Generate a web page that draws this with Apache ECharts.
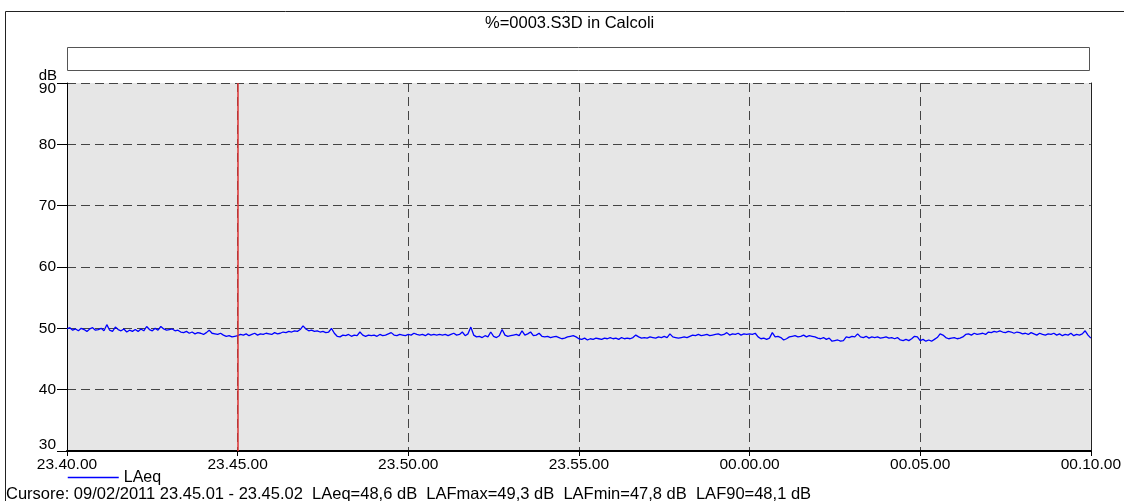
<!DOCTYPE html>
<html>
<head>
<meta charset="utf-8">
<script src="https://cdn.jsdelivr.net/npm/echarts@6/dist/echarts.min.js"></script>
<style>
html,body{margin:0;padding:0;background:#fff;}
#chart{width:1124px;height:501px;}
</style>
</head>
<body>
<div id="chart"></div>
<script>
// ---- data ----
const titleText = '%=0003.S3D in Calcoli';
const seriesName = 'LAeq';
const cursorText = 'Cursore: 09/02/2011 23.45.01 - 23.45.02  LAeq=48,6 dB  LAFmax=49,3 dB  LAFmin=47,8 dB  LAF90=48,1 dB';
const xTickLabels = ['23.40.00','23.45.00','23.50.00','23.55.00','00.00.00','00.05.00','00.10.00'];
const yTicks = [30, 40, 50, 60, 70, 80, 90];
const stepSeconds = 5;          // sampling step of the values below (s)
const cursorSecond = 301;       // 23.45.01, seconds from 23.40.00
const laeq = [
  49.9,50.1,49.7,49.9,49.6,50.0,49.8,49.5,49.9,50.1,49.7,49.8,
  50.0,49.6,50.6,49.7,49.5,50.2,49.8,49.6,49.9,49.4,49.7,49.5,
  49.8,49.5,49.9,49.6,50.3,49.8,49.6,50.0,49.7,50.3,49.9,49.7,
  49.8,49.9,49.6,49.7,49.4,49.3,49.5,49.2,49.4,49.1,49.3,49.2,
  49.0,49.3,49.7,49.2,49.1,49.0,49.2,48.9,48.7,48.8,48.6,48.7,
  48.8,49.0,48.9,49.1,48.8,49.0,49.2,48.9,49.1,49.0,49.2,49.1,
  49.0,49.3,49.1,49.2,49.4,49.3,49.5,49.4,49.6,49.5,49.8,50.4,
  49.9,49.6,49.7,49.5,49.6,49.4,49.5,49.3,49.4,50.0,49.2,48.7,
  48.6,48.9,48.8,49.0,48.7,48.9,48.8,49.4,48.9,48.7,48.9,48.8,
  48.9,48.7,49.0,48.8,48.9,49.1,49.3,48.9,48.8,49.0,48.9,48.8,
  49.0,48.9,49.2,49.0,48.9,49.0,48.8,49.1,48.9,49.0,48.9,49.0,
  48.9,49.0,48.8,49.0,49.2,48.9,49.0,49.4,48.8,49.1,50.2,48.9,
  48.6,48.7,48.5,48.8,48.6,49.4,48.7,48.5,48.8,49.8,48.9,48.7,
  48.8,48.9,49.0,48.8,49.6,48.9,49.1,49.4,48.8,48.9,49.2,48.7,
  48.6,48.7,48.5,48.6,48.7,48.5,48.3,48.4,48.6,48.7,48.8,48.6,
  48.3,48.2,48.4,48.1,48.3,48.2,48.4,48.3,48.2,48.4,48.3,48.5,
  48.3,48.4,48.2,48.5,48.3,48.4,48.3,48.5,48.9,48.6,48.4,48.5,
  48.4,48.6,48.5,48.4,48.6,48.5,48.7,48.5,49.1,48.6,48.5,48.4,
  48.5,48.6,48.5,48.7,48.9,48.8,49.0,48.8,48.9,49.0,48.8,48.9,
  49.0,49.1,48.9,49.0,49.3,48.9,49.1,49.0,49.2,48.9,49.1,49.0,
  49.1,49.0,49.2,48.6,48.3,48.4,48.2,48.4,49.3,48.6,48.7,48.5,
  48.1,48.3,48.6,48.7,48.8,48.6,48.7,48.9,48.6,48.8,48.7,48.6,
  48.4,48.3,48.5,48.2,48.4,47.9,48.0,48.1,47.9,48.0,48.6,48.5,
  48.7,48.6,49.1,48.6,48.5,48.7,48.4,48.6,48.5,48.6,48.4,48.5,
  48.6,48.4,48.5,48.3,48.5,48.1,48.0,48.2,48.0,48.3,48.7,48.6,
  48.0,48.2,47.9,48.1,47.9,48.2,48.5,49.1,48.9,48.5,48.3,48.4,
  48.5,48.3,48.4,48.6,49.0,49.1,48.9,49.2,49.0,49.1,49.2,49.0,
  49.4,49.3,49.5,49.4,49.6,49.4,49.3,49.5,49.4,49.2,49.4,49.3,
  49.1,49.2,49.0,49.3,49.1,48.9,49.2,49.0,48.9,49.1,49.0,49.2,
  48.9,49.1,48.8,49.0,48.9,49.2,48.8,49.0,48.9,49.1,49.6,48.9,
  48.4
];

const FONT = 'Liberation Sans';
const lineData = laeq.map((v, i) => [i * stepSeconds, v]);
const xMax = (xTickLabels.length - 1) * 300;
const yMin = yTicks[0], yMax = yTicks[yTicks.length - 1];

const chart = echarts.init(document.getElementById('chart'), null, {renderer: 'canvas'});
chart.setOption({
  animation: false,
  backgroundColor: '#ffffff',
  textStyle: {fontFamily: FONT},
  title: [
    {text: titleText, left: 480, top: 10,
     textStyle: {fontFamily: FONT, fontSize: 16.5, fontWeight: 'normal', color: '#000'}},
    {text: cursorText, left: 1, top: 481,
     textStyle: {fontFamily: FONT, fontSize: 16.5, fontWeight: 'normal', color: '#000'}}
  ],
  legend: {
    left: 67, top: 469.5, padding: 0,
    itemWidth: 51, itemHeight: 14,
    itemGap: 10,
    itemStyle: {opacity: 0},
    lineStyle: {width: 1.5, color: '#0000ff'},
    textStyle: {fontFamily: FONT, fontSize: 16, color: '#000', padding: [0, 0, 0, 0]},
    data: [seriesName]
  },
  graphic: [
    {type: 'rect', shape: {x: 5.5, y: 11.5, width: 1200, height: 600},
     style: {fill: 'none', stroke: '#222', lineWidth: 1}, silent: true, z: -1},
    {type: 'rect', shape: {x: 67.5, y: 47.5, width: 1022, height: 23},
     style: {fill: '#fff', stroke: '#555', lineWidth: 1}, silent: true},
    {type: 'text', right: 1124 - 57, top: 68,
     style: {text: 'dB', font: '15px ' + FONT, fill: '#000', textAlign: 'right'}}
  ],
  grid: {
    left: 67, right: 32, top: 83, bottom: 50,
    show: true, backgroundColor: '#e6e6e6', borderWidth: 0
  },
  xAxis: {
    type: 'value', min: 0, max: xMax, interval: 300,
    axisLine: {show: true, onZero: false, lineStyle: {color: '#000', width: 2}},
    axisTick: {show: true, length: 5, lineStyle: {color: '#000'}},
    axisLabel: {
      fontFamily: FONT, fontSize: 15.5, color: '#000', margin: 6,
      formatter: v => xTickLabels[Math.round(v / 300)]
    },
    splitLine: {show: true, lineStyle: {color: '#444', type: [9, 5], width: 1}}
  },
  yAxis: [
    {
      type: 'value', min: yMin, max: yMax, interval: 10,
      axisLine: {show: true, lineStyle: {color: '#000', width: 1}},
      axisTick: {show: true, length: 10, lineStyle: {color: '#000'}},
      axisLabel: {
        fontFamily: FONT, fontSize: 15.5, color: '#000', margin: 11,
        formatter: v => v === yMax ? '{hi|' + v + '}' : (v === yMin ? '{lo|' + v + '}' : String(v)),
        rich: {
          hi: {fontFamily: FONT, fontSize: 15.5, color: '#000', padding: [12, 0, 0, 0]},
          lo: {fontFamily: FONT, fontSize: 15.5, color: '#000', padding: [0, 0, 12, 0]}
        }
      },
      splitLine: {show: true, lineStyle: {color: '#444', type: [9, 5], width: 1}}
    },
    {
      type: 'value', position: 'right', min: yMin, max: yMax, interval: 10,
      axisLine: {show: true, lineStyle: {color: '#222', width: 1}},
      axisTick: {show: false}, axisLabel: {show: false}, splitLine: {show: false}
    }
  ],
  series: [{
    name: seriesName,
    type: 'line',
    data: lineData,
    showSymbol: false,
    symbol: 'none',
    lineStyle: {color: '#0000ff', width: 1.3},
    itemStyle: {color: '#0000ff'},
    markLine: {
      silent: true, symbol: 'none', animation: false,
      label: {show: false},
      lineStyle: {color: '#d33', type: 'solid', width: 1.5},
      data: [{xAxis: cursorSecond}]
    }
  }]
});
</script>
</body>
</html>
